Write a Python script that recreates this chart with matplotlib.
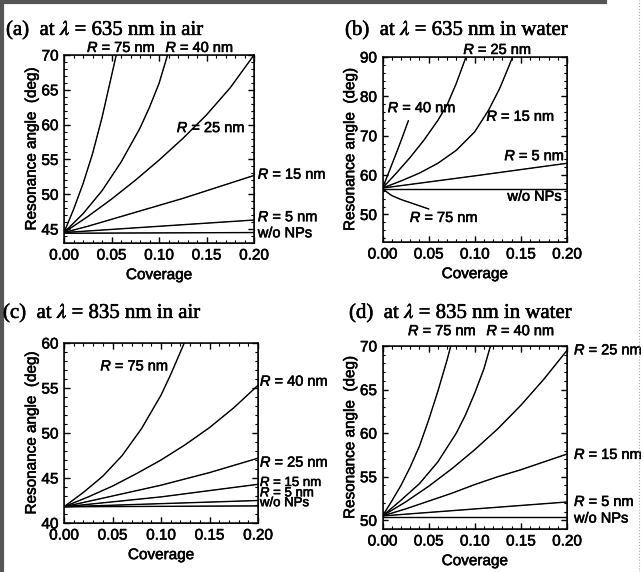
import matplotlib
matplotlib.use('Agg')
import matplotlib.pyplot as plt
import matplotlib.patheffects as pe
from matplotlib.ticker import MultipleLocator
from matplotlib.lines import Line2D

plt.rcParams['font.family'] = ['Liberation Sans', 'DejaVu Sans']
plt.rcParams['mathtext.fontset'] = 'custom'
plt.rcParams['mathtext.it'] = 'Liberation Sans:italic'
plt.rcParams['mathtext.rm'] = 'Liberation Sans'
# scanned print looks a bit heavier than a clean render
plt.rcParams['path.effects'] = [pe.withStroke(linewidth=0.4, foreground='black')]

# (a) lambda = 635 nm, air
a_x75 = [0, 0.01, 0.02, 0.03, 0.04, 0.045, 0.05, 0.055]
a_y75 = [44.5, 47.8, 51.5, 55.8, 61.0, 64.0, 67.0, 70.0]
a_x40 = [0, 0.02, 0.04, 0.06, 0.08, 0.09, 0.1, 0.109]
a_y40 = [44.5, 47.2, 50.5, 54.6, 59.5, 62.5, 65.9, 70.0]
a_x25 = [0, 0.025, 0.05, 0.075, 0.1, 0.125, 0.15, 0.175, 0.2]
a_y25 = [44.5, 46.8, 49.3, 52.0, 54.9, 58.0, 61.4, 65.3, 70.0]
a_x15 = [0, 0.025, 0.05, 0.075, 0.1, 0.125, 0.15, 0.175, 0.2]
a_y15 = [44.5, 45.4, 46.4, 47.4, 48.4, 49.4, 50.5, 51.6, 52.7]
a_x5, a_y5 = [0, 0.1, 0.2], [44.5, 45.4, 46.3]
a_x0, a_y0 = [0, 0.2], [44.4, 44.5]

# (b) lambda = 635 nm, water
b_x40 = [0, 0.007, 0.014, 0.021, 0.028]
b_y40 = [56.7, 60.8, 65.0, 69.3, 73.8]
b_x25 = [0, 0.015, 0.03, 0.045, 0.06, 0.07, 0.08, 0.0905]
b_y25 = [56.7, 60.5, 64.5, 68.9, 73.9, 77.8, 83.3, 90.0]
b_x15 = [0, 0.02, 0.04, 0.06, 0.08, 0.1, 0.115, 0.127, 0.135, 0.141]
b_y15 = [56.7, 58.5, 60.5, 63.0, 66.3, 71.0, 76.5, 82.0, 86.5, 90.0]
b_x5, b_y5 = [0, 0.1, 0.2], [56.7, 59.8, 63.0]
b_x0, b_y0 = [0, 0.2], [56.4, 56.4]
b_x75 = [0, 0.01, 0.02, 0.03, 0.04, 0.05]
b_y75 = [56.5, 54.8, 53.8, 53.0, 52.2, 51.4]

# (c) lambda = 835 nm, air
c_x75 = [0, 0.02, 0.04, 0.06, 0.08, 0.1, 0.11, 0.12, 0.124]
c_y75 = [41.8, 43.4, 45.2, 47.5, 50.5, 54.2, 56.5, 59.0, 60.0]
c_x40 = [0, 0.025, 0.05, 0.075, 0.1, 0.125, 0.15, 0.175, 0.2]
c_y40 = [41.8, 42.9, 44.1, 45.5, 47.0, 48.7, 50.6, 52.8, 55.3]
c_x25 = [0, 0.025, 0.05, 0.075, 0.1, 0.125, 0.15, 0.175, 0.2]
c_y25 = [41.8, 42.4, 43.0, 43.6, 44.2, 44.9, 45.6, 46.4, 47.2]
c_x15, c_y15 = [0, 0.1, 0.2], [41.8, 42.9, 44.3]
c_x5, c_y5 = [0, 0.2], [41.8, 42.5]
c_x0, c_y0 = [0, 0.2], [41.8, 41.9]

# (d) lambda = 835 nm, water
d_x75 = [0, 0.01, 0.02, 0.03, 0.04, 0.05, 0.06, 0.07, 0.074]
d_y75 = [50.5, 52.2, 54.0, 56.1, 58.5, 61.5, 64.8, 68.4, 70.0]
d_x40 = [0, 0.02, 0.04, 0.06, 0.08, 0.09, 0.1, 0.11, 0.117]
d_y40 = [50.5, 52.3, 54.2, 56.7, 60.0, 62.1, 64.6, 67.4, 70.0]
d_x25 = [0, 0.025, 0.05, 0.075, 0.1, 0.125, 0.15, 0.175, 0.2]
d_y25 = [50.5, 52.1, 53.9, 55.9, 58.1, 60.5, 63.2, 66.2, 69.5]
d_x15 = [0, 0.025, 0.05, 0.075, 0.1, 0.125, 0.15, 0.175, 0.2]
d_y15 = [50.5, 51.3, 52.2, 53.1, 54.1, 55.0, 55.8, 56.7, 57.6]
d_x5, d_y5 = [0, 0.1, 0.2], [50.5, 51.3, 52.1]
d_x0, d_y0 = [0, 0.2], [50.4, 50.4]

W, H = 644, 572


def px_rect(left, right, top, bottom):
    return [left / W, 1 - bottom / H, (right - left) / W, (bottom - top) / H]


def setup(ax, ylim, ymajor):
    ax.set_xlim(0, 0.2)
    ax.set_ylim(*ylim)
    ax.xaxis.set_major_locator(MultipleLocator(0.05))
    ax.xaxis.set_minor_locator(MultipleLocator(0.01))
    ax.yaxis.set_major_locator(MultipleLocator(ymajor))
    ax.yaxis.set_minor_locator(MultipleLocator(1 if ymajor == 5 else 2))
    ax.xaxis.set_major_formatter(plt.FormatStrFormatter('%.2f'))
    ax.tick_params(which='both', direction='in', top=True, right=True)
    ax.tick_params(which='major', length=4, width=1, labelsize=11, pad=4)
    ax.tick_params(which='minor', length=2, width=0.8)
    for s in ax.spines.values():
        s.set_linewidth(1.1)
    ax.set_xlabel('Coverage', fontsize=11, labelpad=4)
    ax.set_ylabel('Resonance angle  (deg)', fontsize=11, labelpad=2)


def rlabel(ax, x, y, txt, ha='left', va='center', size=10.5):
    ax.text(x, y, txt, ha=ha, va=va, fontsize=size, clip_on=False)


fig = plt.figure(figsize=(6.44, 5.72), dpi=100)

# panel (a)
ax = fig.add_axes(px_rect(64, 254, 55, 243))
for xs, ys in [(a_x75, a_y75), (a_x40, a_y40), (a_x25, a_y25), (a_x15, a_y15), (a_x5, a_y5), (a_x0, a_y0)]:
    ax.plot(xs, ys, color='black', lw=1.0)
setup(ax, (43, 70), 5)
rlabel(ax, 0.0605, 70, '$R$ = 75 nm', ha='center', va='bottom')
rlabel(ax, 0.143, 70, '$R$ = 40 nm', ha='center', va='bottom')
rlabel(ax, 0.155, 59.5, '$R$ = 25 nm', ha='center')
rlabel(ax, 0.204, 52.8, '$R$ = 15 nm')
rlabel(ax, 0.204, 46.7, '$R$ = 5 nm')
rlabel(ax, 0.204, 44.4, 'w/o NPs')

# panel (b)
ax = fig.add_axes(px_rect(382.5, 567, 57, 242))
for xs, ys in [(b_x40, b_y40), (b_x25, b_y25), (b_x15, b_y15), (b_x5, b_y5), (b_x0, b_y0), (b_x75, b_y75)]:
    ax.plot(xs, ys, color='black', lw=1.0)
setup(ax, (43, 90), 10)
rlabel(ax, 0.125, 90, '$R$ = 25 nm', ha='center', va='bottom')
rlabel(ax, 0.043, 77.0, '$R$ = 40 nm', ha='center')
rlabel(ax, 0.150, 74.8, '$R$ = 15 nm', ha='center')
rlabel(ax, 0.198, 64.8, '$R$ = 5 nm', ha='right')
rlabel(ax, 0.165, 54.5, 'w/o NPs', ha='center')
rlabel(ax, 0.067, 49.1, '$R$ = 75 nm', ha='center')

# panel (c)
ax = fig.add_axes(px_rect(64, 258, 343, 523))
for xs, ys in [(c_x75, c_y75), (c_x40, c_y40), (c_x25, c_y25), (c_x15, c_y15), (c_x5, c_y5), (c_x0, c_y0)]:
    ax.plot(xs, ys, color='black', lw=1.0)
setup(ax, (40, 60), 5)
rlabel(ax, 0.073, 57.4, '$R$ = 75 nm', ha='center')
rlabel(ax, 0.202, 55.7, '$R$ = 40 nm')
rlabel(ax, 0.202, 46.7, '$R$ = 25 nm')
rlabel(ax, 0.202, 44.5, '$R$ = 15 nm', size=9.5)
rlabel(ax, 0.202, 43.35, '$R$ = 5 nm', size=9.5)
rlabel(ax, 0.202, 42.2, 'w/o NPs', size=9.5)

# panel (d)
ax = fig.add_axes(px_rect(382.5, 567, 346, 529))
for xs, ys in [(d_x75, d_y75), (d_x40, d_y40), (d_x25, d_y25), (d_x15, d_y15), (d_x5, d_y5), (d_x0, d_y0)]:
    ax.plot(xs, ys, color='black', lw=1.0)
setup(ax, (49, 70), 5)
rlabel(ax, 0.065, 70.9, '$R$ = 75 nm', ha='center', va='bottom')
rlabel(ax, 0.150, 70.9, '$R$ = 40 nm', ha='center', va='bottom')
rlabel(ax, 0.2076, 69.5, '$R$ = 25 nm')
rlabel(ax, 0.2076, 57.5, '$R$ = 15 nm')
rlabel(ax, 0.2076, 52.1, '$R$ = 5 nm')
rlabel(ax, 0.2076, 50.2, 'w/o NPs')

# panel titles
titles = [(6, 30, '(a)  at $\\lambda$ = 635 nm in air'),
          (345, 30, '(b)  at $\\lambda$ = 635 nm in water'),
          (3, 313, '(c)  at $\\lambda$ = 835 nm in air'),
          (349, 313, '(d)  at $\\lambda$ = 835 nm in water')]
for tx, ty, tt in titles:
    fig.text(tx / W, 1 - ty / H, tt, ha='left', va='center', fontsize=15,
             family='Liberation Serif', math_fontfamily='stix')

# scanned page border
for line in [Line2D([0.003, 0.003], [0, 1], color='#555555', lw=3),
             Line2D([0, 0.94], [0.997, 0.997], color='#555555', lw=3),
             Line2D([0.992, 0.992], [0, 1], color='#aaaaaa', lw=0.8, ls=':')]:
    line.set_transform(fig.transFigure)
    line.set_path_effects([])
    fig.add_artist(line)

fig.savefig('out.png', dpi=100)
